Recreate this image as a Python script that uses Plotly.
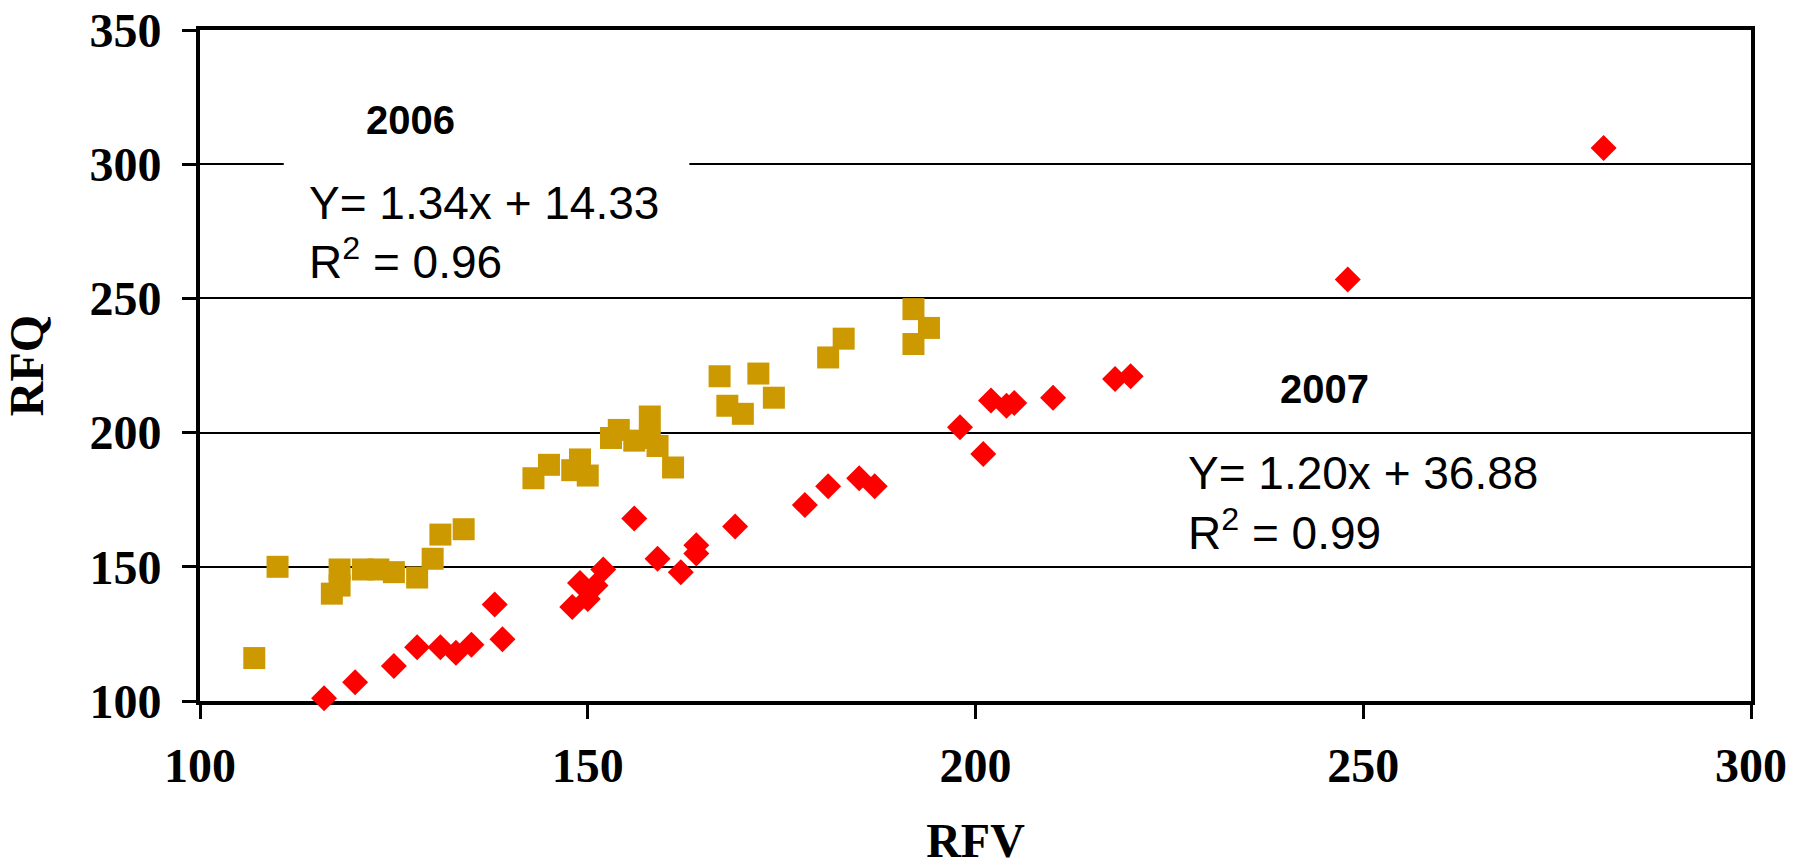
import plotly.graph_objects as go

# 2006 data (gold squares)
rfv_2006 = [107, 110, 117, 118, 118, 121, 123, 125, 128, 130, 131, 134, 143, 145, 148, 149, 150,
            153, 154, 156, 158, 158, 159, 161, 167, 168, 170, 172, 174, 181, 183, 192, 192, 194]
rfq_2006 = [116, 150, 140, 143, 149, 149, 149, 148, 146, 153, 162, 164, 183, 188, 186, 190, 184,
            198, 201, 197, 206, 198, 195, 187, 221, 210, 207, 222, 213, 228, 235, 246, 233, 239]

# 2007 data (red diamonds)
rfv_2007 = [116, 120, 125, 128, 131, 133, 135, 138, 139, 148, 149, 150, 151, 152, 156, 159, 162,
            164, 164, 169, 178, 181, 185, 187, 198, 201, 202, 204, 205, 210, 218, 220, 248, 281]
rfq_2007 = [101, 107, 113, 120, 120, 118, 121, 136, 123, 135, 144, 138, 143, 149, 168, 153, 148,
            158, 155, 165, 173, 180, 183, 180, 202, 192, 212, 210, 211, 213, 220, 221, 257, 306]

x_ticks = [100, 150, 200, 250, 300]
y_ticks = [100, 150, 200, 250, 300, 350]

fig = go.Figure()
fig.add_trace(go.Scatter(x=rfv_2006, y=rfq_2006, mode="markers", name="2006",
                         marker=dict(symbol="square", size=22, color="#CC9900", line=dict(width=0)),
                         cliponaxis=False))
fig.add_trace(go.Scatter(x=rfv_2007, y=rfq_2007, mode="markers", name="2007",
                         marker=dict(symbol="diamond", size=20, color="#FF0000", line=dict(width=0)),
                         cliponaxis=False))

tick_font = dict(family="Liberation Serif", size=48, color="black", weight="bold")
title_font = dict(family="Liberation Serif", size=48, color="black", weight="bold")

fig.update_xaxes(range=[100, 300], tickvals=x_ticks, showgrid=False, zeroline=False,
                 showline=True, linecolor="black", linewidth=4, mirror=True,
                 ticks="outside", ticklen=14, tickwidth=3, tickcolor="black",
                 tickfont=tick_font, ticklabelstandoff=5,
                 title=dict(text="<b>RFV</b>", font=title_font, standoff=43),
                 layer="below traces")
fig.update_yaxes(range=[100, 350], tickvals=y_ticks, showgrid=True, gridcolor="black", gridwidth=2,
                 zeroline=False, showline=True, linecolor="black", linewidth=4, mirror=True,
                 ticks="outside", ticklen=14, tickwidth=3, tickcolor="black",
                 tickfont=tick_font, ticklabelstandoff=11,
                 title=dict(text="<b>RFQ</b>", font=title_font, standoff=37),
                 layer="below traces")

# white box behind 2006 text
fig.add_shape(type="rect", xref="x", yref="y", x0=110.8, x1=163.1, y0=256, y1=330,
              fillcolor="white", line=dict(width=0), layer="above")

ann_font = dict(family="Liberation Sans", size=46, color="black")
yr_font = dict(family="Liberation Sans", size=40, color="black", weight="bold")
fig.add_annotation(x=127.1, y=316.4, xref="x", yref="y", text="2006", showarrow=False,
                   font=yr_font, xanchor="center", yanchor="middle")
fig.add_annotation(x=113.8, y=285.6, xref="x", yref="y", text="Y= 1.34x + 14.33", showarrow=False,
                   font=ann_font, xanchor="left", yanchor="middle")
fig.add_annotation(x=113.8, y=264.8, xref="x", yref="y", text="R<sup>2</sup> = 0.96", showarrow=False,
                   font=ann_font, xanchor="left", yanchor="middle")
fig.add_annotation(x=245.0, y=216.2, xref="x", yref="y", text="2007", showarrow=False,
                   font=yr_font, xanchor="center", yanchor="middle")
fig.add_annotation(x=227.1, y=185.0, xref="x", yref="y", text="Y= 1.20x + 36.88", showarrow=False,
                   font=ann_font, xanchor="left", yanchor="middle")
fig.add_annotation(x=227.1, y=163.8, xref="x", yref="y", text="R<sup>2</sup> = 0.99", showarrow=False,
                   font=ann_font, xanchor="left", yanchor="middle")

fig.update_layout(width=1806, height=867, showlegend=False,
                  paper_bgcolor="white", plot_bgcolor="white",
                  margin=dict(l=200, r=55, t=30, b=166, autoexpand=False))

fig.write_html("out.html")
